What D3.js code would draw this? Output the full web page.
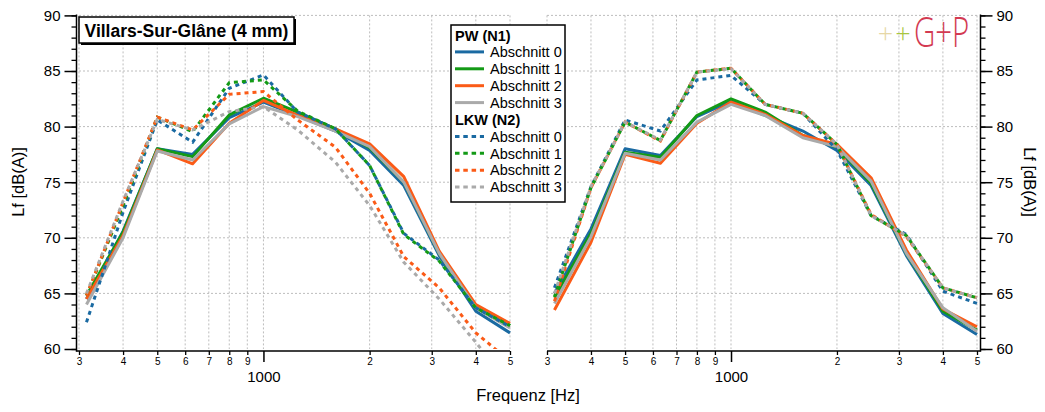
<!DOCTYPE html>
<html>
<head>
<meta charset="utf-8">
<script src="https://cdn.jsdelivr.net/npm/d3@7/dist/d3.min.js"></script>
<style>
  html, body { margin: 0; padding: 0; background: #fff; }
  svg { display: block; }
  text { font-family: "Liberation Sans", Arial, sans-serif; }
</style>
</head>
<body>
<svg id="chart" width="1045" height="412"></svg>
<script>
// ---------- data ----------
const freqs = [315, 400, 500, 630, 800, 1000, 1250, 1600, 2000, 2500, 3150, 4000, 5000];
const seriesNames = ["Abschnitt 0", "Abschnitt 1", "Abschnitt 2", "Abschnitt 3"];
const colors = ["#1a6aa2", "#139a16", "#fb5b17", "#aaaaaa"];

// Left panel, PW (N1) — solid
const leftPW0 = [64.5, 70.6, 78.0, 77.5, 80.8, 82.2, 81.0, 79.6, 77.85, 74.7, 68.4, 63.4, 61.45];
const leftPW1 = [64.8, 70.5, 78.0, 77.3, 81.05, 82.55, 81.3, 79.8, 78.1, 75.0, 68.6, 63.8, 62.1];
const leftPW2 = [64.5, 70.2, 77.9, 76.65, 80.3, 82.35, 81.0, 79.8, 78.45, 75.5, 68.8, 64.0, 62.3];
const leftPW3 = [64.0, 70.0, 77.8, 77.0, 80.25, 81.8, 80.9, 79.6, 78.2, 75.0, 68.6, 63.7, 61.9];
// Left panel, LKW (N2) — dotted
const leftLKW0 = [62.4, 72.3, 80.6, 78.6, 83.45, 84.65, 81.3, 79.8, 76.5, 70.4, 68.0, 63.7, 62.0];
const leftLKW1 = [64.8, 72.9, 80.85, 79.55, 83.95, 84.2, 81.4, 79.8, 76.5, 70.3, 67.9, 63.7, 62.1];
const leftLKW2 = [64.8, 73.2, 80.85, 79.7, 82.9, 83.15, 80.6, 78.15, 74.0, 68.3, 65.5, 61.45, 58.9];
const leftLKW3 = [65.0, 73.3, 80.65, 79.7, 81.35, 81.8, 79.7, 76.8, 72.9, 67.8, 64.5, 60.6, 56.8];

// Right panel, PW (N1) — solid
const rightPW0 = [65.0, 70.8, 78.0, 77.4, 80.9, 82.3, 81.0, 79.6, 77.85, 74.7, 68.4, 63.2, 61.3];
const rightPW1 = [64.6, 70.4, 77.7, 77.25, 81.0, 82.5, 81.3, 79.2, 78.15, 74.9, 68.6, 63.4, 61.7];
const rightPW2 = [63.5, 69.6, 77.5, 76.7, 80.3, 82.2, 81.1, 79.2, 78.4, 75.4, 68.9, 63.6, 62.0];
const rightPW3 = [64.1, 70.1, 77.6, 77.0, 80.4, 82.0, 81.0, 79.0, 78.2, 75.1, 68.6, 63.7, 61.6];
// Right panel, LKW (N2) — dotted
const rightLKW0 = [65.5, 74.6, 80.6, 79.6, 84.2, 84.6, 82.0, 81.2, 77.9, 72.0, 70.3, 65.2, 64.1];
const rightLKW1 = [64.7, 74.5, 80.4, 78.75, 84.9, 85.25, 82.0, 81.2, 78.4, 72.0, 70.2, 65.5, 64.6];
const rightLKW2 = [64.3, 74.5, 80.4, 78.7, 84.9, 85.25, 82.0, 81.2, 78.4, 72.1, 70.1, 65.5, 64.6];
const rightLKW3 = [65.0, 74.6, 80.4, 78.8, 84.9, 85.2, 82.0, 81.2, 78.4, 72.0, 70.2, 65.5, 64.6];

const yMajorTicks = [60, 65, 70, 75, 80, 85, 90];
const xMinorTicks = [300, 400, 500, 600, 700, 800, 900, 2000, 3000, 4000, 5000];
const xMajorTicks = [1000];
const titleText = "Villars-Sur-Glâne (4 mm)";
const groupTitles = ["PW (N1)", "LKW (N2)"];
const xLabel = "Frequenz [Hz]";
const yLabel = "Lf [dB(A)]";

// ---------- setup ----------
const svg = d3.select("#chart");
const yTop = 15.4, yBot = 349;
const y = d3.scaleLinear().domain([60, 90]).range([yBot, yTop]);
const xL = d3.scaleLog().domain([300, 5000]).range([79, 510]);
const xR = d3.scaleLog().domain([300, 5000]).range([547, 977]);

const defs = svg.append("defs");
function clip(id, x) {
  defs.append("clipPath").attr("id", id).append("rect")
    .attr("x", x.range()[0] - 2).attr("y", yTop - 2)
    .attr("width", x.range()[1] - x.range()[0] + 4).attr("height", yBot - yTop + 2);
}
clip("clipL", xL); clip("clipR", xR);

function grid(x) {
  const g = svg.append("g").attr("class", "grid");
  g.selectAll("line.h").data(yMajorTicks.filter(v => v > 60)).join("line")
    .attr("x1", x.range()[0]).attr("x2", x.range()[1])
    .attr("y1", d => y(d)).attr("y2", d => y(d))
    .attr("stroke", "#bdbdbd").attr("stroke-width", 1).attr("stroke-dasharray", "2,2");
  g.selectAll("line.v").data(xMinorTicks.concat(xMajorTicks)).join("line")
    .attr("y1", yTop).attr("y2", yBot)
    .attr("x1", d => x(d)).attr("x2", d => x(d))
    .attr("stroke", "#bdbdbd").attr("stroke-width", 1).attr("stroke-dasharray", "2,2");
}
grid(xL); grid(xR);

function xAxis(x, x0, x1) {
  const ay = 351;
  const minor = d3.axisBottom(x).tickValues(xMinorTicks).tickSize(4).tickSizeOuter(0)
    .tickPadding(3).tickFormat(d => String(d).charAt(0));
  const gm = svg.append("g").attr("transform", `translate(0,${ay})`).call(minor);
  gm.select(".domain").remove();
  gm.selectAll("text").attr("font-size", 10).attr("font-family", "Liberation Sans, Arial, sans-serif");
  gm.selectAll("line").attr("stroke-width", 1.3);
  const major = d3.axisBottom(x).tickValues(xMajorTicks).tickSize(11).tickSizeOuter(0)
    .tickPadding(9).tickFormat(d3.format("d"));
  const gM = svg.append("g").attr("transform", `translate(0,${ay})`).call(major);
  gM.select(".domain").remove();
  gM.selectAll("text").attr("font-size", 15).attr("font-family", "Liberation Sans, Arial, sans-serif");
  gM.selectAll("line").attr("stroke-width", 1.5);
  svg.append("line").attr("x1", x0).attr("x2", x1).attr("y1", ay).attr("y2", ay)
    .attr("stroke", "#000").attr("stroke-width", 1.5);
}
xAxis(xL, 76.5, xL.range()[1]);
xAxis(xR, xR.range()[0], 980.5);

function yAxis(ax, side) {
  const gen = side === "left" ? d3.axisLeft : d3.axisRight;
  const minor = gen(y).tickValues(d3.range(60, 91, 1)).tickSize(5).tickSizeOuter(0).tickFormat("");
  const gm = svg.append("g").attr("transform", `translate(${ax},0)`).call(minor);
  gm.select(".domain").remove();
  gm.selectAll("line").attr("stroke-width", 1.3);
  const major = gen(y).tickValues(yMajorTicks).tickSize(12).tickSizeOuter(0).tickPadding(4).tickFormat(d3.format("d"));
  const gM = svg.append("g").attr("transform", `translate(${ax},0)`).call(major);
  gM.select(".domain").remove();
  gM.selectAll("line").attr("stroke-width", 1.5);
  gM.selectAll("text").attr("font-size", 15).attr("font-family", "Liberation Sans, Arial, sans-serif");
  svg.append("line").attr("x1", ax).attr("x2", ax).attr("y1", yTop - 1).attr("y2", 351.7)
    .attr("stroke", "#000").attr("stroke-width", 1.5);
}
yAxis(76.5, "left");
yAxis(980.5, "right");

// ---------- lines ----------
function drawLines(x, clipId, pw, lkw) {
  const g = svg.append("g").attr("clip-path", `url(#${clipId})`);
  const line = d3.line().x((d, i) => x(freqs[i])).y(d => y(d));
  pw.forEach((vals, i) => {
    g.append("path").datum(vals).attr("d", line).attr("fill", "none")
      .attr("stroke", colors[i]).attr("stroke-width", 3).attr("stroke-linejoin", "round");
  });
  lkw.forEach((vals, i) => {
    g.append("path").datum(vals).attr("d", line).attr("fill", "none")
      .attr("stroke", colors[i]).attr("stroke-width", 3).attr("stroke-dasharray", "4,4");
  });
}
drawLines(xL, "clipL", [leftPW0, leftPW1, leftPW2, leftPW3], [leftLKW0, leftLKW1, leftLKW2, leftLKW3]);
drawLines(xR, "clipR", [rightPW0, rightPW1, rightPW2, rightPW3], [rightLKW0, rightLKW1, rightLKW2, rightLKW3]);

// ---------- labels ----------
svg.append("text").attr("x", 528).attr("y", 401).attr("text-anchor", "middle")
  .attr("font-size", 16.5).text(xLabel);
svg.append("text").attr("transform", "translate(24,182) rotate(-90)").attr("text-anchor", "middle")
  .attr("font-size", 16.5).text(yLabel);
svg.append("text").attr("transform", "translate(1024,182) rotate(90)").attr("text-anchor", "middle")
  .attr("font-size", 16.5).text(yLabel);

// ---------- title box ----------
svg.append("rect").attr("x", 81).attr("y", 19).attr("width", 215).attr("height", 26).attr("fill", "#000");
svg.append("rect").attr("x", 79).attr("y", 17).attr("width", 215).attr("height", 26)
  .attr("fill", "#fff").attr("stroke", "#000").attr("stroke-width", 1.5);
svg.append("text").attr("x", 186.5).attr("y", 36.5).attr("text-anchor", "middle")
  .attr("font-size", 17.5).attr("font-weight", "bold").text(titleText);

// ---------- legend ----------
const lg = svg.append("g");
lg.append("rect").attr("x", 451).attr("y", 25).attr("width", 114).attr("height", 177)
  .attr("fill", "#fff").attr("stroke", "#000").attr("stroke-width", 1.5);
const rowH = 16.9;
[0, 1].forEach(gi => {
  const base = 35 + gi * 5 * rowH;
  lg.append("text").attr("x", 455).attr("y", base + 5.5).attr("font-size", 14.5)
    .attr("font-weight", "bold").text(groupTitles[gi]);
  seriesNames.forEach((nm, i) => {
    const cy = base + (i + 1) * rowH;
    lg.append("line").attr("x1", 455).attr("x2", 484).attr("y1", cy).attr("y2", cy)
      .attr("stroke", colors[i]).attr("stroke-width", 3)
      .attr("stroke-dasharray", gi === 1 ? "4.5,3.8" : null);
    lg.append("text").attr("x", 490).attr("y", cy + 5.2).attr("font-size", 14.5).text(nm);
  });
});

// ---------- logo ----------
const logo = svg.append("g").attr("font-family", "'Open Sans', 'Liberation Sans', sans-serif");
logo.append("text").attr("x", 885.5).attr("y", 43).attr("text-anchor", "middle")
  .style("font-family", "'Open Sans', sans-serif").attr("font-weight", 300)
  .attr("font-size", 27).attr("fill", "#e6d7a6").text("+");
logo.append("text").attr("x", 903).attr("y", 43).attr("text-anchor", "middle")
  .style("font-family", "'Open Sans', sans-serif").attr("font-weight", 300)
  .attr("font-size", 27).attr("fill", "#a8c640").text("+");
logo.append("text").attr("transform", "translate(914,47) scale(0.7,1)")
  .style("font-family", "'Open Sans', sans-serif").attr("font-weight", 300)
  .attr("font-size", 42).attr("fill", "#d33a52").text("G+P");
</script>
</body>
</html>
